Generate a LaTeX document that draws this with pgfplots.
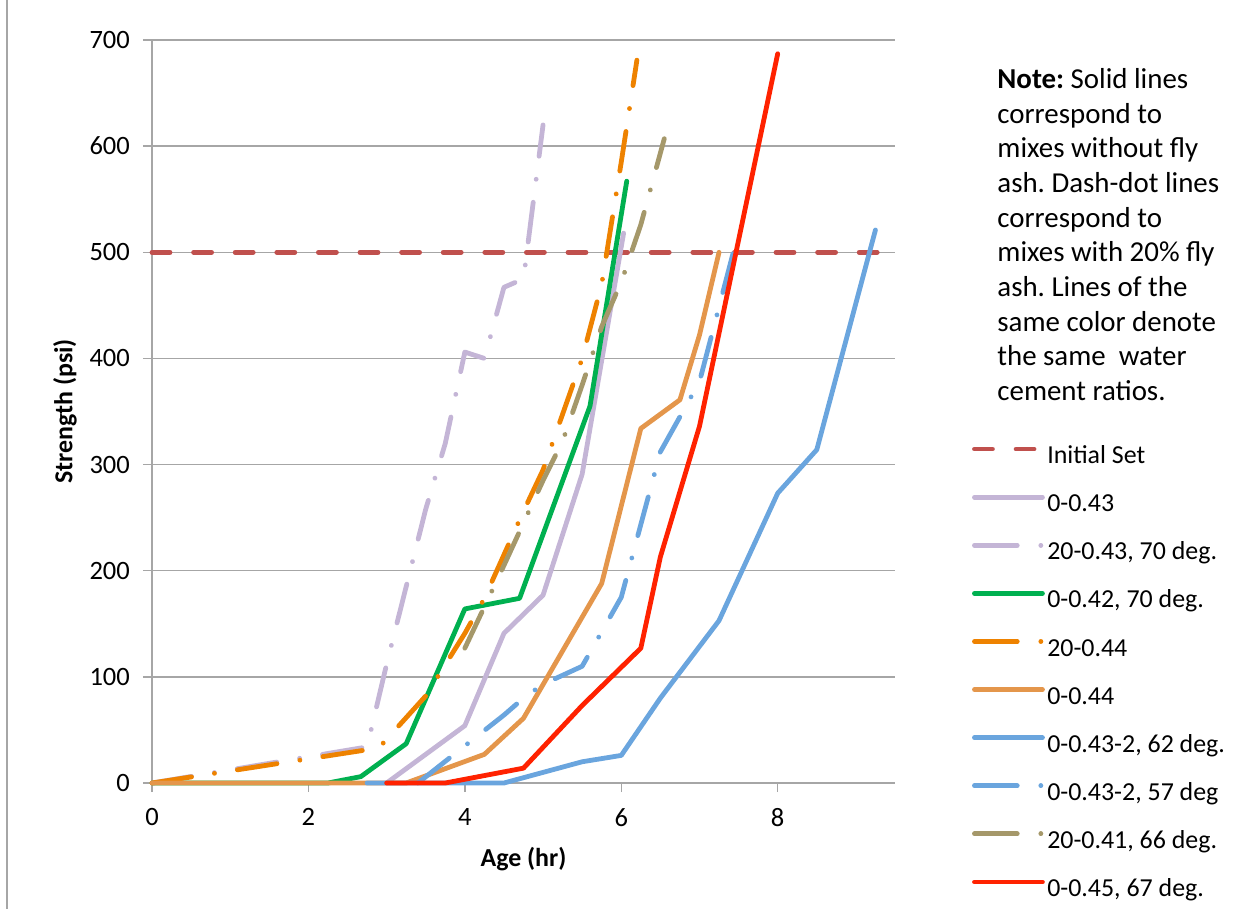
\documentclass[border=0pt]{standalone}
\usepackage{fontspec}
\setmainfont{Carlito}
\usepackage{pgfplots}
\pgfplotsset{compat=1.18}
\definecolor{gridgray}{RGB}{166,166,166}
\definecolor{cSet}{RGB}{192,80,77}
\definecolor{cLav}{RGB}{196,181,214}
\definecolor{cGreen}{RGB}{0,176,80}
\definecolor{cOrange}{RGB}{238,130,0}
\definecolor{cLOrange}{RGB}{228,150,75}
\definecolor{cBlue}{RGB}{106,165,222}
\definecolor{cOlive}{RGB}{165,152,106}
\definecolor{cRed}{RGB}{255,34,0}
\tikzset{
  dd/.style={dash pattern=on 20bp off 11.6bp on 0.01bp off 11.6bp},
}
\pgfplotsset{
  ddleg/.style={legend image code/.code={\draw[##1, dash pattern=on 21.4bp off 11.8bp on 0.01bp off 20bp] (0bp,4.3bp) -- (34bp,4.3bp);}},
}
\frenchspacing
\begin{document}
\begin{tikzpicture}
\useasboundingbox (-76bp,-63bp) rectangle (550bp,391.5bp);
\begin{axis}[
  at={(0,0)}, anchor=south west,
  scale only axis, width=371.5bp, height=371.5bp,
  xmin=0, xmax=9.5, ymin=0, ymax=700,
  xtick={0,2,4,6,8}, ytick={0,100,...,700},
  axis x line*=bottom, axis y line*=left,
  axis line style={draw=gridgray, line width=0.75bp},
  ymajorgrids, major grid style={draw=gridgray, line width=0.75bp},
  tick align=outside, major tick length=4.5bp,
  tick style={draw=gridgray, line width=0.75bp},
  /pgf/number format/assume math mode=true,
  ticklabel style={font=\fontsize{13.3}{15}\selectfont},
  yticklabel style={anchor=east, inner sep=0pt, xshift=-6.4bp},
  xticklabel style={anchor=north, inner sep=0pt, yshift=-8bp},
  xlabel={Age (hr)}, ylabel={Strength (psi)},
  label style={font=\fontsize{13}{15}\selectfont\bfseries},
  xlabel style={at={(axis description cs:0.5,-0.1023)}, anchor=center},
  ylabel style={at={(axis description cs:-0.117,0.5)}, anchor=center},
  clip=false,
  every axis plot/.append style={line width=2.4bp, line cap=round, line join=round},
  legend style={
    at={(rel axis cs:1.1037,0.4540)}, anchor=north west,
    draw=none, fill=none, inner sep=0pt, outer sep=0pt,
    font=\fontsize{13}{15}\selectfont,
    row sep=12.05bp,
    nodes={inner sep=0pt, text height=9bp, text depth=3bp},
    /tikz/every odd column/.append style={column sep=1.2bp},
  },
  legend cell align=left,
  legend image code/.code={\draw[#1] (0bp,4.3bp) -- (34bp,4.3bp);},
]
% Initial Set
\addplot[cSet, dash pattern=on 9bp off 11.8bp, line cap=round] coordinates {(0,500) (9.5,500)};
\addlegendentry{Initial Set}
% 0-0.43
\addplot[cLav] coordinates {(3.0,0) (4.0,54) (4.5,141) (5.0,177) (5.5,291) (6.03,518)};
\addlegendentry{0-0.43}
% 20-0.43, 70 deg.
\addplot[cLav, dd, ddleg] coordinates {(0,0) (2.75,34) (3.0,112) (3.25,185) (3.5,258) (3.75,320) (4.0,406) (4.25,400) (4.5,467) (4.75,475) (5.0,620)};
\addlegendentry{20-0.43, 70 deg.}
% 0-0.42, 70 deg.
\addplot[cGreen] coordinates {(0,0) (2.25,0) (2.67,6) (3.25,37) (4.0,164) (4.7,174) (5.6,355) (6.07,567)};
\addlegendentry{0-0.42, 70 deg.}
% 20-0.44
\addplot[cOrange, dd, ddleg] coordinates {(0,0) (2.9,33) (3.5,82) (4.0,141) (4.25,174) (4.75,256) (5.0,295) (5.5,400) (5.75,470) (6.0,585) (6.2,681)};
\addlegendentry{20-0.44}
% 0-0.44
\addplot[cLOrange] coordinates {(0,0) (3.25,0) (4.25,27) (4.75,61) (5.75,188) (6.25,334) (6.75,361) (7.0,422) (7.25,500)};
\addlegendentry{0-0.44}
% 0-0.43-2, 62 deg.
\addplot[cBlue] coordinates {(2.75,0) (4.5,0) (5.0,10) (5.5,20) (6.0,26) (6.5,80) (7.25,153) (8.0,273) (8.5,314) (9.25,521)};
\addlegendentry{0-0.43-2, 62 deg.}
% 0-0.43-2, 57 deg
\addplot[cBlue, dd, ddleg] coordinates {(3.4,0) (4.0,35) (4.5,64) (4.75,80) (5.0,93) (5.5,110) (6.0,175) (6.5,312) (6.75,345) (7.0,378) (7.5,519)};
\addlegendentry{0-0.43-2, 57 deg}
% 20-0.41, 66 deg.
\addplot[cOlive, dd, ddleg] coordinates {(4.0,127) (4.25,166) (4.5,205) (4.75,245) (5.0,285) (5.25,322) (5.5,375) (5.75,430) (6.0,472) (6.25,526) (6.55,607)};
\addlegendentry{20-0.41, 66 deg.}
% 0-0.45, 67 deg.
\addplot[cRed] coordinates {(3.0,0) (3.75,0) (4.75,14) (5.5,73) (6.25,127) (6.5,213) (7.0,336) (8.0,687)};
\addlegendentry{0-0.45, 67 deg.}
\node[anchor=north west, align=left, inner sep=0pt, font=\fontsize{14.5}{17.4}\selectfont] at (rel axis cs:1.1373,0.9623)
{\textbf{Note:} Solid lines\\ correspond to\\ mixes without fly\\ ash. Dash-dot lines\\ correspond to\\ mixes with 20\% fly\\ ash. Lines of the\\ same color denote\\ the same\ \ water\\ cement ratios.};
\end{axis}
\draw[draw=gridgray, line width=0.75bp] (-72.5bp,-63bp) -- (-72.5bp,391.5bp);
\end{tikzpicture}
\end{document}
